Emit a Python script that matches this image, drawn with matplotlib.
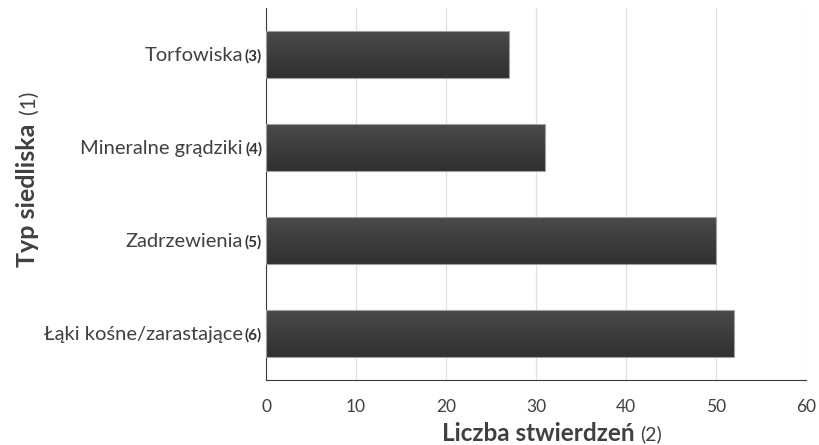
import matplotlib.pyplot as plt
import numpy as np
from matplotlib.transforms import offset_copy

categories = ['Torfowiska', 'Mineralne grądziki', 'Zadrzewienia', 'Łąki kośne/zarastające']
category_notes = ['(3)', '(4)', '(5)', '(6)']
counts = [27, 31, 50, 52]
x_ticks = [0, 10, 20, 30, 40, 50, 60]

plt.rcParams['font.family'] = ['Lato', 'DejaVu Sans']

fig = plt.figure(figsize=(8.19, 4.45), dpi=100)
ax = fig.add_axes([0.3248, 0.146, 0.984 - 0.3248, 0.982 - 0.146])

ypos = np.arange(len(categories))[::-1]
bars = ax.barh(ypos, counts, height=0.5, facecolor='none', edgecolor='#a0a0a0',
               linewidth=0.8, zorder=3)

# vertical shading inside each bar (lighter on top)
grad = np.linspace(0, 1, 64).reshape(-1, 1)
cmap = plt.matplotlib.colors.LinearSegmentedColormap.from_list('g', ['#4a4a4a', '#303030'])
for b in bars:
    x0, y0 = b.get_x(), b.get_y()
    w, h = b.get_width(), b.get_height()
    im = ax.imshow(grad, cmap=cmap, aspect='auto', extent=[x0, x0 + w, y0, y0 + h],
                   zorder=2, interpolation='bicubic')
    im.set_clip_path(b)

ax.set_xlim(0, 60)
ax.set_ylim(-0.5, 3.5)
ax.set_xticks(x_ticks)
ax.set_xticklabels([str(t) for t in x_ticks], fontsize=12.5, color='#404040')
ax.tick_params(axis='x', length=0, pad=14)
ax.set_yticks([])
ax.grid(axis='x', color='#e0e0e0', linewidth=0.9, zorder=0)
ax.set_axisbelow(True)
for s in ['top', 'right']:
    ax.spines[s].set_visible(False)
ax.spines['left'].set_color('#3a3a3a')
ax.spines['bottom'].set_color('#3a3a3a')

fig.canvas.draw()
renderer = fig.canvas.get_renderer()

# category labels: name + small bold note
for y, name, note in zip(ypos, categories, category_notes):
    t = ax.text(-0.007, y - 0.07, note, transform=ax.get_yaxis_transform(), ha='right',
                va='baseline', fontsize=11, fontweight='bold', color='#333333')
    w = t.get_window_extent(renderer).width
    tr = offset_copy(ax.get_yaxis_transform(), fig=fig, x=-w * 72 / fig.dpi - 1.5, units='points')
    ax.text(-0.007, y - 0.07, name, transform=tr, ha='right', va='baseline',
            fontsize=14.5, color='#404040')

# x label: bold text + regular note, centred as one unit
xb = fig.text(0, 0.01, 'Liczba stwierdzeń', ha='left', va='baseline',
              fontsize=17.5, fontweight='bold', color='#404040')
xn = fig.text(0, 0.01, '(2)', ha='left', va='baseline', fontsize=14, color='#404040')
wb = xb.get_window_extent(renderer).width
wn = xn.get_window_extent(renderer).width
gap = 5
start = 552 - (wb + gap + wn) / 2
xb.set_x(start / 819)
xn.set_x((start + wb + gap) / 819)

# y label: bold text + regular note, rotated
yb = fig.text(0.043, 0, 'Typ siedliska', ha='left', va='baseline', rotation=90,
              fontsize=18, fontweight='bold', color='#404040', rotation_mode='anchor')
yn = fig.text(0.043, 0, '(1)', ha='left', va='baseline', rotation=90,
              fontsize=15, color='#404040', rotation_mode='anchor')
hb = yb.get_window_extent(renderer).height
hn = yn.get_window_extent(renderer).height
gap = 10
bottom = (445 - 179) - (hb + gap + hn) / 2
yb.set_y(bottom / 445)
yn.set_y((bottom + hb + gap) / 445)

fig.savefig('out.png', dpi=100)
